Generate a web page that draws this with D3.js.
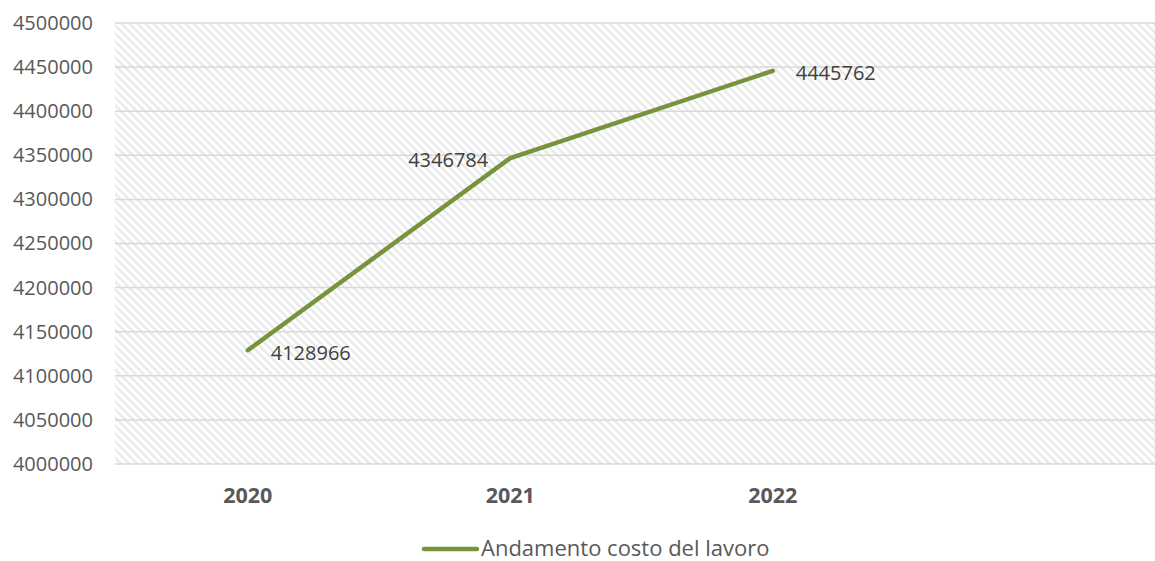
<!DOCTYPE html>
<html>
<head>
<meta charset="utf-8">
<script src="https://cdn.jsdelivr.net/npm/d3@7"></script>
<style>
  body { margin: 0; background: #fff; }
  svg text { font-family: "Open Sans", "Noto Sans", sans-serif; }
</style>
</head>
<body>
<svg id="chart" width="1155" height="561"></svg>
<script>
// data
const years = ['2020', '2021', '2022'];
const costs = [4128966, 4346784, 4445762];
const yTicks = [4000000, 4050000, 4100000, 4150000, 4200000, 4250000, 4300000, 4350000, 4400000, 4450000, 4500000];
const labelSide = ['right', 'left', 'right'];
const seriesName = 'Andamento costo del lavoro';

// layout
const plotLeft = 115, plotTop = 23, plotBottom = 464, plotRight = 1155;
const lineColor = '#77933c';

let svg = d3.select('#chart');

// hatch pattern for plot background
let pattern = svg.append('defs').append('pattern')
    .attr('id', 'hatch')
    .attr('patternUnits', 'userSpaceOnUse')
    .attr('width', 5.66)
    .attr('height', 5.66)
    .attr('patternTransform', 'rotate(-45)');
pattern.append('rect')
    .attr('width', 5.66).attr('height', 5.66).attr('fill', '#fff');
pattern.append('rect')
    .attr('width', 2.4).attr('height', 5.66).attr('fill', '#e9e9e9');

// the chart has an empty fourth slot on the right
let x = d3.scaleBand()
    .domain(years.concat(['']))
    .range([116.5, 1166.5]);

let y = d3.scaleLinear()
    .domain([4000000, 4500000])
    .range([plotBottom, plotTop]);

svg.append('rect')
    .attr('x', plotLeft)
    .attr('y', plotTop)
    .attr('width', plotRight - plotLeft)
    .attr('height', plotBottom - plotTop)
    .attr('fill', 'url(#hatch)');

// gridlines
svg.append('g')
    .selectAll('line')
    .data(yTicks)
    .enter()
    .append('line')
    .attr('x1', plotLeft)
    .attr('x2', plotRight)
    .attr('y1', d => y(d))
    .attr('y2', d => y(d))
    .attr('stroke', '#d9d9d9')
    .attr('stroke-width', 1.5);

// y axis
let yAxis = svg.append('g')
    .attr('transform', 'translate(' + (plotLeft - 22) + ',0)')
    .call(d3.axisLeft(y).tickValues(yTicks).tickFormat(d3.format('d')).tickSize(0).tickPadding(0));
yAxis.select('.domain').remove();
yAxis.selectAll('text')
    .attr('fill', '#595959')
    .style('font-size', '20px');

// x axis
let xAxis = svg.append('g')
    .attr('transform', 'translate(0,' + (plotBottom + 31) + ')')
    .call(d3.axisBottom(x).tickSize(0).tickPadding(0));
xAxis.select('.domain').remove();
xAxis.selectAll('text')
    .attr('fill', '#595959')
    .attr('dy', '0.35em')
    .style('font-size', '21.5px')
    .style('font-weight', 'bold');

// line
let line = d3.line()
    .x((d, i) => x(years[i]) + x.bandwidth() / 2)
    .y(d => y(d));

svg.append('path')
    .datum(costs)
    .attr('d', line)
    .attr('fill', 'none')
    .attr('stroke', lineColor)
    .attr('stroke-width', 4.5)
    .attr('stroke-linecap', 'round')
    .attr('stroke-linejoin', 'round');

// data labels
svg.append('g')
    .selectAll('text')
    .data(costs)
    .enter()
    .append('text')
    .attr('x', (d, i) => x(years[i]) + x.bandwidth() / 2 + (labelSide[i] === 'right' ? 23 : -22))
    .attr('y', (d, i) => y(d) + (i === 0 ? 3 : 2))
    .attr('dy', '0.35em')
    .attr('text-anchor', (d, i) => labelSide[i] === 'right' ? 'start' : 'end')
    .attr('fill', '#404040')
    .style('font-size', '20px')
    .text(d => d);

// legend
let legend = svg.append('g').attr('transform', 'translate(0,548)');
legend.append('line')
    .attr('x1', 424).attr('x2', 477)
    .attr('y1', 1).attr('y2', 1)
    .attr('stroke', lineColor)
    .attr('stroke-width', 4.5)
    .attr('stroke-linecap', 'round');
legend.append('text')
    .attr('x', 481)
    .attr('y', 0)
    .attr('dy', '0.35em')
    .attr('fill', '#595959')
    .style('font-size', '22px')
    .text(seriesName);
</script>
</body>
</html>
